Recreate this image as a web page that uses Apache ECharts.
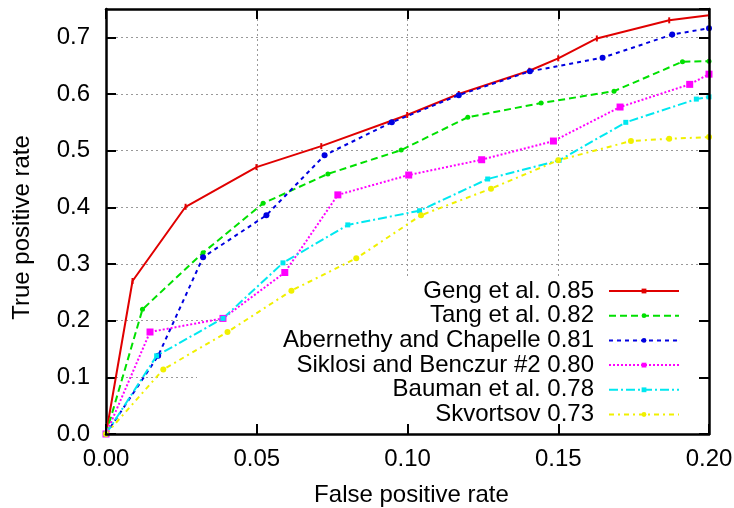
<!DOCTYPE html>
<html>
<head>
<meta charset="utf-8">
<script src="https://cdn.jsdelivr.net/npm/echarts@6/dist/echarts.min.js"></script>
<style>html,body{margin:0;padding:0;background:#fff;}#c{width:734px;height:508px;}</style>
</head>
<body>
<div id="c"></div>
<script>
var xTicks = [0.00, 0.05, 0.10, 0.15, 0.20];
var yTicks = [0.0, 0.1, 0.2, 0.3, 0.4, 0.5, 0.6, 0.7];

var names = [
  'Geng et al. 0.85',
  'Tang et al. 0.82',
  'Abernethy and Chapelle 0.81',
  'Siklosi and Benczur #2 0.80',
  'Bauman et al. 0.78',
  'Skvortsov 0.73'
];

var geng = [[0,0],[0.0088,0.270],[0.0264,0.401],[0.0499,0.471],[0.0714,0.508],[0.0999,0.563],[0.117,0.600],[0.1404,0.641],[0.150,0.663],[0.1628,0.698],[0.1868,0.730],[0.2,0.739]];
var tang = [[0,0],[0.0121,0.220],[0.0322,0.320],[0.0521,0.407],[0.0736,0.459],[0.0979,0.501],[0.120,0.559],[0.1443,0.584],[0.1685,0.605],[0.1912,0.657],[0.2,0.658]];
var abernethy = [[0,0],[0.0173,0.138],[0.0322,0.312],[0.0532,0.386],[0.0725,0.492],[0.0948,0.550],[0.117,0.598],[0.1406,0.640],[0.1647,0.664],[0.1878,0.705],[0.2,0.716]];
var siklosi = [[0,0],[0.0146,0.180],[0.0388,0.204],[0.0593,0.285],[0.0769,0.422],[0.1004,0.457],[0.1246,0.484],[0.1484,0.517],[0.1705,0.577],[0.1936,0.617],[0.2,0.635]];
var bauman = [[0,0],[0.0168,0.138],[0.0388,0.204],[0.0587,0.302],[0.0802,0.369],[0.104,0.394],[0.1266,0.450],[0.1503,0.483],[0.1724,0.550],[0.1958,0.591],[0.2,0.595]];
var skvortsov = [[0,0],[0.019,0.114],[0.0403,0.180],[0.0615,0.253],[0.083,0.310],[0.1045,0.386],[0.1277,0.433],[0.150,0.483],[0.1741,0.517],[0.1868,0.521],[0.2,0.524]];

var FONT = 'Liberation Sans';
var FS = 24;
var chart = echarts.init(document.getElementById('c'), null, {renderer: 'canvas'});

function mk(name, data, color, dash, symbol, size) {
  return {
    name: name, type: 'line', data: data, z: 3,
    symbol: symbol, symbolSize: size, showSymbol: true,
    itemStyle: {color: color},
    lineStyle: {color: color, width: 2, type: dash},
    emphasis: {disabled: true}, animation: false
  };
}

var gridLine = {show: true, lineStyle: {color: '#999', width: 1, type: [2, 3]}};
var frame = {show: true, onZero: false, lineStyle: {color: '#000', width: 2.5}};
var ticks = {show: true, inside: true, length: 10, lineStyle: {color: '#000', width: 2}};

var option = {
  backgroundColor: '#fff',
  animation: false,
  grid: {left: 106, top: 9, right: 25, bottom: 74, containLabel: false, outerBoundsMode: 'none'},
  xAxis: [
    {type: 'value', min: 0, max: 0.2, interval: 0.05, position: 'bottom', z: 4,
     axisLine: frame, axisTick: ticks, splitLine: {show: false},
     axisLabel: {color: '#000', fontSize: FS, fontFamily: FONT, margin: 13,
       formatter: function (v) { return v.toFixed(2); }},
     name: 'False positive rate', nameLocation: 'middle', nameGap: 49,
     nameTextStyle: {color: '#000', fontSize: FS, fontFamily: FONT, padding: [0, 0, 0, 8]}},
    {type: 'value', min: 0, max: 0.2, interval: 0.05, position: 'top', z: 0,
     axisLine: frame, axisTick: ticks, splitLine: gridLine, axisLabel: {show: false}}
  ],
  yAxis: [
    {type: 'value', min: 0, max: 0.75, interval: 0.1, position: 'left', z: 0,
     axisLine: frame, axisTick: ticks, splitLine: gridLine,
     axisLabel: {color: '#000', fontSize: FS, fontFamily: FONT, margin: 16,
       showMaxLabel: false,
       formatter: function (v) { return v.toFixed(1); }},
     name: 'True positive rate', nameLocation: 'middle', nameGap: 72,
     nameTextStyle: {color: '#000', fontSize: FS, fontFamily: FONT, padding: [0, 12, 0, 0]}},
    {type: 'value', min: 0, max: 0.75, interval: 0.1, position: 'right', z: 4,
     axisLine: frame, axisTick: ticks, splitLine: {show: false}, axisLabel: {show: false}}
  ],
  graphic: [
    {type: 'rect', z: 1, silent: true, shape: {x: 223, y: 277, width: 484, height: 63}, style: {fill: '#fff'}},
    {type: 'rect', z: 1, silent: true, shape: {x: 197, y: 340, width: 510, height: 92}, style: {fill: '#fff'}}
  ],
  legend: {
    orient: 'vertical', align: 'right', right: 49, top: 274,
    itemWidth: 70, itemHeight: 6, itemGap: 0.7,
    selectedMode: false,
    textStyle: {color: '#000', fontSize: FS, fontFamily: FONT, padding: [0, 10, 0, 0]},
    data: names
  },
  series: [
    mk(names[0], geng, '#e00000', 'solid', 'rect', [2, 6]),
    mk(names[1], tang, '#00e000', [7, 4], 'circle', 5),
    mk(names[2], abernethy, '#0000e0', [4, 4], 'circle', 6),
    mk(names[3], siklosi, '#ff00ff', [2, 2], 'rect', 7),
    mk(names[4], bauman, '#00e8f0', [9, 3, 2, 3], 'rect', 5),
    mk(names[5], skvortsov, '#f0f000', [5, 4, 2, 4], 'circle', 6)
  ]
};
chart.setOption(option);
</script>
</body>
</html>
